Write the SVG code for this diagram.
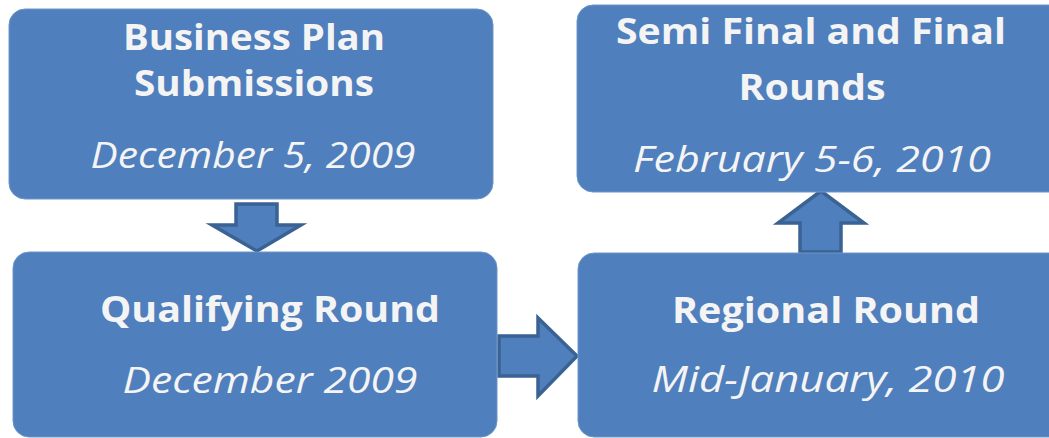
<svg xmlns="http://www.w3.org/2000/svg" width="1049" height="438" viewBox="0 0 1049 438">
<style>
.box{fill:#4f7fbc;stroke:#6d96c8;stroke-width:1}
.arr{fill:#4f7fbc;stroke:#3a6394;stroke-width:3.5;stroke-linejoin:miter}
.t{font-family:"Open Sans","Liberation Sans",sans-serif;fill:#f4f4f4;text-anchor:middle}
.b{font-weight:bold;font-size:35px}
.i{font-style:italic;font-size:36px}
</style>
<rect width="1049" height="438" fill="#ffffff"/>
<g id="connectors">
<polygon class="arr" points="236,204 277,204 277,225 301,225 257,251 212,225 236,225"/>
<polygon class="arr" points="499,336 538,336 538,318 577,356 538,396 538,376 499,376"/>
<polygon class="arr" points="800,252 841,252 841,223 864,223 821,191 778,223 800,223"/>
</g>
<g id="node-business-plan">
<rect class="box" x="9" y="9" width="484" height="190" rx="16"/>
<text class="t b" x="254" y="50" textLength="262" lengthAdjust="spacingAndGlyphs">Business Plan</text>
<text class="t b" x="254" y="96" textLength="240" lengthAdjust="spacingAndGlyphs">Submissions</text>
<text class="t i" x="253" y="168" textLength="325" lengthAdjust="spacingAndGlyphs">December 5, 2009</text>
</g>
<g id="node-semi-final">
<rect class="box" x="577" y="5" width="490" height="187" rx="16"/>
<text class="t b" x="811" y="44" textLength="390" lengthAdjust="spacingAndGlyphs">Semi Final and Final</text>
<text class="t b" x="812" y="100" textLength="147" lengthAdjust="spacingAndGlyphs">Rounds</text>
<text class="t i" x="812" y="172" textLength="358" lengthAdjust="spacingAndGlyphs">February 5-6, 2010</text>
</g>
<g id="node-qualifying">
<rect class="box" x="13" y="252" width="484" height="185" rx="16"/>
<text class="t b" x="270" y="322" textLength="340" lengthAdjust="spacingAndGlyphs">Qualifying Round</text>
<text class="t i" x="270" y="393" textLength="295" lengthAdjust="spacingAndGlyphs">December 2009</text>
</g>
<g id="node-regional">
<rect class="box" x="578" y="253" width="490" height="184" rx="16"/>
<text class="t b" x="826" y="323" textLength="308" lengthAdjust="spacingAndGlyphs">Regional Round</text>
<text class="t i" x="828" y="392" textLength="353" lengthAdjust="spacingAndGlyphs">Mid-January, 2010</text>
</g>
</svg>
